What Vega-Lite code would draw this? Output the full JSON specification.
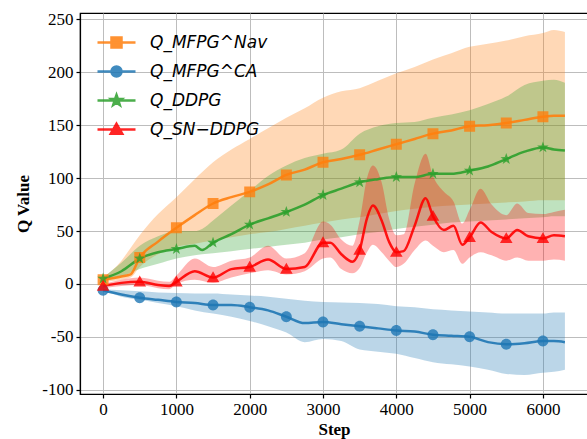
{
  "$schema": "https://vega.github.io/schema/vega-lite/v6.json",
  "width": 508,
  "height": 381,
  "autosize": {"type": "none"},
  "padding": {"left": 80, "top": 13, "right": 0, "bottom": 45},
  "background": "white",
  "config": {
    "view": {"stroke": "black", "strokeWidth": 1.2},
    "font": "Liberation Serif",
    "axis": {
      "domainColor": "black", "domainWidth": 1.2, "tickColor": "black", "tickWidth": 1.2, "tickSize": 4,
      "labelColor": "black", "titleColor": "black", "labelFont": "Liberation Serif", "titleFont": "Liberation Serif",
      "labelFontSize": 17, "titleFontSize": 17, "titleFontWeight": "bold", "gridColor": "#bdbdbd", "gridWidth": 1,
      "labelPadding": 3
    },
    "legend": {
      "orient": "none", "legendX": 28, "legendY": 21, "padding": 0,
      "labelFont": "DejaVu Sans", "labelFontStyle": "italic", "labelFontSize": 17, "labelColor": "black",
      "labelOffset": 25, "rowPadding": 8, "symbolSize": 100, "symbolStrokeWidth": 2.5, "symbolOpacity": 0.85
    }
  },
  "data": {"values": [
    {"s":"nav","step":0,"q":4,"lo":2,"hi":6},
    {"s":"nav","step":250,"q":7,"lo":4,"hi":22},
    {"s":"nav","step":375,"q":9,"lo":6,"hi":34},
    {"s":"nav","step":500,"q":25,"lo":16,"hi":46},
    {"s":"nav","step":750,"q":40,"lo":28,"hi":66},
    {"s":"nav","step":1000,"q":53,"lo":35,"hi":82},
    {"s":"nav","step":1250,"q":65,"lo":38,"hi":99},
    {"s":"nav","step":1500,"q":76,"lo":41,"hi":115},
    {"s":"nav","step":1750,"q":82,"lo":44,"hi":127},
    {"s":"nav","step":2000,"q":87,"lo":47,"hi":137},
    {"s":"nav","step":2250,"q":94,"lo":49,"hi":147},
    {"s":"nav","step":2500,"q":103,"lo":52,"hi":157},
    {"s":"nav","step":2750,"q":108,"lo":55,"hi":166},
    {"s":"nav","step":3000,"q":115,"lo":58,"hi":176},
    {"s":"nav","step":3250,"q":118,"lo":61,"hi":182},
    {"s":"nav","step":3500,"q":122,"lo":63,"hi":185},
    {"s":"nav","step":3750,"q":127,"lo":66,"hi":192},
    {"s":"nav","step":4000,"q":132,"lo":69,"hi":199},
    {"s":"nav","step":4250,"q":137,"lo":71,"hi":205},
    {"s":"nav","step":4500,"q":142,"lo":73,"hi":212},
    {"s":"nav","step":4750,"q":145,"lo":74,"hi":218},
    {"s":"nav","step":5000,"q":149,"lo":75,"hi":224},
    {"s":"nav","step":5250,"q":150,"lo":76,"hi":227},
    {"s":"nav","step":5500,"q":152,"lo":77,"hi":230},
    {"s":"nav","step":5750,"q":155,"lo":78,"hi":234},
    {"s":"nav","step":6000,"q":158,"lo":79,"hi":237},
    {"s":"nav","step":6150,"q":159,"lo":79,"hi":240},
    {"s":"nav","step":6300,"q":159,"lo":79,"hi":238},

    {"s":"ca","step":0,"q":-6,"lo":-6,"hi":-5},
    {"s":"ca","step":250,"q":-10,"lo":-12,"hi":-6},
    {"s":"ca","step":500,"q":-13,"lo":-15,"hi":-7},
    {"s":"ca","step":750,"q":-15,"lo":-18,"hi":-8},
    {"s":"ca","step":1000,"q":-17,"lo":-21,"hi":-8.5},
    {"s":"ca","step":1250,"q":-18,"lo":-25,"hi":-9},
    {"s":"ca","step":1500,"q":-20,"lo":-28,"hi":-9},
    {"s":"ca","step":1750,"q":-20,"lo":-31,"hi":-10},
    {"s":"ca","step":2000,"q":-22,"lo":-35,"hi":-11},
    {"s":"ca","step":2250,"q":-25,"lo":-40,"hi":-12},
    {"s":"ca","step":2500,"q":-31,"lo":-46,"hi":-14},
    {"s":"ca","step":2750,"q":-37,"lo":-55,"hi":-16},
    {"s":"ca","step":3000,"q":-36,"lo":-52,"hi":-17},
    {"s":"ca","step":3250,"q":-38,"lo":-54,"hi":-17.5},
    {"s":"ca","step":3500,"q":-40,"lo":-62,"hi":-18},
    {"s":"ca","step":3750,"q":-42,"lo":-64,"hi":-19},
    {"s":"ca","step":4000,"q":-44,"lo":-66,"hi":-21},
    {"s":"ca","step":4250,"q":-45,"lo":-70,"hi":-22},
    {"s":"ca","step":4500,"q":-48,"lo":-74,"hi":-24},
    {"s":"ca","step":4750,"q":-49,"lo":-76,"hi":-25},
    {"s":"ca","step":5000,"q":-50,"lo":-78,"hi":-26},
    {"s":"ca","step":5250,"q":-55,"lo":-81,"hi":-27},
    {"s":"ca","step":5500,"q":-57,"lo":-85,"hi":-28},
    {"s":"ca","step":5750,"q":-56,"lo":-86,"hi":-28},
    {"s":"ca","step":6000,"q":-54,"lo":-84,"hi":-28},
    {"s":"ca","step":6150,"q":-54,"lo":-83,"hi":-27},
    {"s":"ca","step":6300,"q":-55,"lo":-81,"hi":-27},

    {"s":"ddpg","step":0,"q":5,"lo":3,"hi":6},
    {"s":"ddpg","step":250,"q":12,"lo":7,"hi":20},
    {"s":"ddpg","step":500,"q":24,"lo":14,"hi":36},
    {"s":"ddpg","step":750,"q":30,"lo":19,"hi":45},
    {"s":"ddpg","step":1000,"q":33,"lo":24,"hi":50},
    {"s":"ddpg","step":1250,"q":36,"lo":27,"hi":50},
    {"s":"ddpg","step":1350,"q":32,"lo":28,"hi":52},
    {"s":"ddpg","step":1500,"q":39,"lo":29,"hi":60},
    {"s":"ddpg","step":1750,"q":47,"lo":31,"hi":74},
    {"s":"ddpg","step":2000,"q":56,"lo":33,"hi":88},
    {"s":"ddpg","step":2250,"q":62,"lo":35,"hi":102},
    {"s":"ddpg","step":2500,"q":68,"lo":37,"hi":112},
    {"s":"ddpg","step":2750,"q":75,"lo":39,"hi":119},
    {"s":"ddpg","step":3000,"q":84,"lo":42,"hi":123},
    {"s":"ddpg","step":3250,"q":90,"lo":44,"hi":127},
    {"s":"ddpg","step":3500,"q":96,"lo":47,"hi":142},
    {"s":"ddpg","step":3750,"q":99,"lo":49,"hi":149},
    {"s":"ddpg","step":4000,"q":101,"lo":52,"hi":152},
    {"s":"ddpg","step":4250,"q":101,"lo":54,"hi":153},
    {"s":"ddpg","step":4500,"q":104,"lo":56,"hi":157},
    {"s":"ddpg","step":4750,"q":104,"lo":58,"hi":160},
    {"s":"ddpg","step":5000,"q":107,"lo":59,"hi":164},
    {"s":"ddpg","step":5250,"q":111,"lo":60,"hi":170},
    {"s":"ddpg","step":5500,"q":118,"lo":61,"hi":177},
    {"s":"ddpg","step":5750,"q":125,"lo":62,"hi":188},
    {"s":"ddpg","step":6000,"q":129,"lo":63,"hi":192},
    {"s":"ddpg","step":6150,"q":127,"lo":64,"hi":193},
    {"s":"ddpg","step":6300,"q":126,"lo":64,"hi":190},

    {"s":"sn","step":0,"q":-2,"lo":-4,"hi":0},
    {"s":"sn","step":250,"q":1,"lo":-2,"hi":4},
    {"s":"sn","step":500,"q":2,"lo":-1,"hi":6},
    {"s":"sn","step":750,"q":-1,"lo":-4,"hi":3},
    {"s":"sn","step":900,"q":-2,"lo":-5,"hi":2},
    {"s":"sn","step":1000,"q":2,"lo":0,"hi":8},
    {"s":"sn","step":1250,"q":12,"lo":4,"hi":24},
    {"s":"sn","step":1500,"q":6,"lo":1,"hi":16},
    {"s":"sn","step":1750,"q":14,"lo":6,"hi":22},
    {"s":"sn","step":2000,"q":16,"lo":10,"hi":25},
    {"s":"sn","step":2250,"q":23,"lo":13,"hi":36},
    {"s":"sn","step":2500,"q":14,"lo":9,"hi":24},
    {"s":"sn","step":2750,"q":16,"lo":12,"hi":29},
    {"s":"sn","step":3000,"q":39,"lo":24,"hi":59},
    {"s":"sn","step":3100,"q":39,"lo":25,"hi":56},
    {"s":"sn","step":3250,"q":28,"lo":14,"hi":42},
    {"s":"sn","step":3400,"q":21,"lo":10,"hi":36},
    {"s":"sn","step":3500,"q":32,"lo":15,"hi":60},
    {"s":"sn","step":3600,"q":62,"lo":30,"hi":100},
    {"s":"sn","step":3680,"q":74,"lo":37,"hi":112},
    {"s":"sn","step":3800,"q":60,"lo":30,"hi":96},
    {"s":"sn","step":3900,"q":40,"lo":22,"hi":62},
    {"s":"sn","step":4000,"q":30,"lo":16,"hi":46},
    {"s":"sn","step":4100,"q":31,"lo":19,"hi":47},
    {"s":"sn","step":4250,"q":55,"lo":32,"hi":95},
    {"s":"sn","step":4400,"q":81,"lo":41,"hi":123},
    {"s":"sn","step":4500,"q":64,"lo":36,"hi":102},
    {"s":"sn","step":4650,"q":51,"lo":30,"hi":87},
    {"s":"sn","step":4780,"q":55,"lo":32,"hi":78},
    {"s":"sn","step":4900,"q":37,"lo":19,"hi":57},
    {"s":"sn","step":5000,"q":44,"lo":25,"hi":70},
    {"s":"sn","step":5150,"q":58,"lo":30,"hi":90},
    {"s":"sn","step":5300,"q":49,"lo":27,"hi":75},
    {"s":"sn","step":5500,"q":43,"lo":22,"hi":65},
    {"s":"sn","step":5650,"q":51,"lo":25,"hi":76},
    {"s":"sn","step":5800,"q":45,"lo":22,"hi":67},
    {"s":"sn","step":6000,"q":43,"lo":22,"hi":66},
    {"s":"sn","step":6150,"q":46,"lo":23,"hi":68},
    {"s":"sn","step":6300,"q":45,"lo":22,"hi":70}
  ]},
  "encoding": {
    "x": {
      "field": "step", "type": "quantitative", "title": "Step",
      "scale": {"domain": [-315, 6615], "nice": false, "zero": false},
      "axis": {"values": [0, 1000, 2000, 3000, 4000, 5000, 6000], "format": "d", "grid": true, "titlePadding": 4, "labelFlush": false}
    }
  },
  "layer": [
    {
      "mark": {"type": "area", "opacity": 0.3, "interpolate": "monotone"},
      "encoding": {
        "y": {"field": "lo", "type": "quantitative", "title": "Q Value", "stack": null,
          "scale": {"domain": [-104, 256], "nice": false, "zero": false},
          "axis": {"values": [-100, -50, 0, 50, 100, 150, 200, 250], "labelExpr": "toString(datum.value)", "titlePadding": 9}},
        "y2": {"field": "hi"},
        "fill": {
          "field": "s", "type": "nominal",
          "scale": {"domain": ["nav", "ca", "ddpg", "sn"], "range": ["#ff7f0e", "#1f77b4", "#2ca02c", "#ff0000"]},
          "legend": {"title": null, "labelExpr": "datum.value === 'nav' ? 'Q_MFPG^Nav' : datum.value === 'ca' ? 'Q_MFPG^CA' : datum.value === 'ddpg' ? 'Q_DDPG' : 'Q_SN−DDPG'"}
        }
      }
    },
    {
      "mark": {"type": "line", "strokeWidth": 2.5, "opacity": 0.9, "interpolate": "monotone"},
      "encoding": {
        "y": {"field": "q", "type": "quantitative", "title": "Q Value"},
        "stroke": {
          "field": "s", "type": "nominal",
          "scale": {"domain": ["nav", "ca", "ddpg", "sn"], "range": ["#ff7f0e", "#1f77b4", "#2ca02c", "#ff0000"]},
          "legend": {"title": null, "labelExpr": "datum.value === 'nav' ? 'Q_MFPG^Nav' : datum.value === 'ca' ? 'Q_MFPG^CA' : datum.value === 'ddpg' ? 'Q_DDPG' : 'Q_SN−DDPG'"}
        }
      }
    },
    {
      "transform": [{"filter": "datum.step % 500 === 0"}],
      "mark": {"type": "point", "filled": true, "opacity": 0.8, "size": 120, "strokeWidth": 0},
      "encoding": {
        "y": {"field": "q", "type": "quantitative", "title": "Q Value"},
        "fill": {"field": "s", "type": "nominal"},
        "shape": {"field": "s", "type": "nominal",
          "scale": {"domain": ["nav", "ca", "ddpg", "sn"], "range": [
            "M-3.8,0H3.8M-1,-1H1V1H-1Z",
            "M-3.8,0H3.8M1,0A1,1,0,1,1,-1,0A1,1,0,1,1,1,0Z",
            "M-3.8,0H3.8M0,-1.1L0.26,-0.36L1.05,-0.34L0.42,0.14L0.65,0.89L0,0.44L-0.65,0.89L-0.42,0.14L-1.05,-0.34L-0.26,-0.36Z",
            "M-3.8,0H3.8M0,-1.15L1.15,0.85H-1.15Z"]},
          "legend": {"title": null, "labelExpr": "datum.value === 'nav' ? 'Q_MFPG^Nav' : datum.value === 'ca' ? 'Q_MFPG^CA' : datum.value === 'ddpg' ? 'Q_DDPG' : 'Q_SN−DDPG'"}
        }
      }
    }
  ]
}
